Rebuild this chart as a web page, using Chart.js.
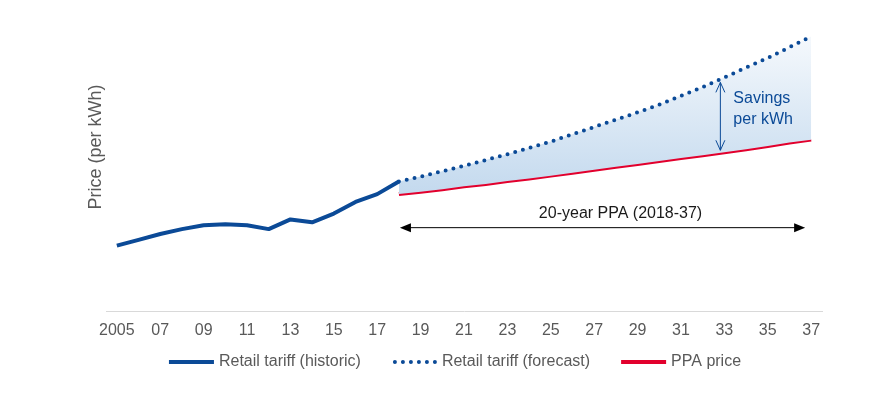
<!DOCTYPE html>
<html>
<head>
<meta charset="utf-8">
<script src="https://cdn.jsdelivr.net/npm/chart.js@4.4.1/dist/chart.umd.min.js"></script>
<style>
  html, body { margin: 0; padding: 0; background: #fff; }
  #wrap { width: 876px; height: 393px; position: relative; }
</style>
</head>
<body>
<div id="wrap"><canvas id="tariff-chart"></canvas></div>
<script>
const years = [2005, 2006, 2007, 2008, 2009, 2010, 2011, 2012, 2013, 2014, 2015,
  2016, 2017, 2018, 2019, 2020, 2021, 2022, 2023, 2024, 2025, 2026, 2027, 2028,
  2029, 2030, 2031, 2032, 2033, 2034, 2035, 2036, 2037];

const tickLabels = ['2005', '', '07', '', '09', '', '11', '', '13', '', '15', '',
  '17', '', '19', '', '21', '', '23', '', '25', '', '27', '', '29', '', '31', '',
  '33', '', '35', '', '37'];

// 2005-2018
const retailHistoric = [6.8, 7.4, 8.0, 8.5, 8.9, 9.0, 8.9, 8.5, 9.5, 9.2, 10.1,
  11.3, 12.1, 13.4];

// 2018-2037
const retailForecast = [13.4, 13.9, 14.45, 15.0, 15.6, 16.2, 16.85, 17.5, 18.25,
  19.0, 19.75, 20.5, 21.3, 22.2, 23.1, 24.1, 25.1, 26.1, 27.2, 28.3];

// 2018-2037
const ppaPrice = [12.1, 12.35, 12.6, 12.9, 13.15, 13.45, 13.7, 14.0, 14.3, 14.6,
  14.9, 15.2, 15.5, 15.8, 16.1, 16.4, 16.7, 17.05, 17.4, 17.7];

const seriesNames = ['Retail tariff (historic)', 'Retail tariff (forecast)', 'PPA price'];

const PPA_START = 2018;
const PPA_END = 2037;
const SAVINGS_YEAR = 2033;

const BLUE = '#0b4a97';
const RED = '#e2002d';
const GREY = '#595959';
const FONT = '"Liberation Sans", Arial, sans-serif';

Chart.defaults.font.family = FONT;
Chart.defaults.font.size = 16;
Chart.defaults.color = GREY;

function padSeries(values, startYear) {
  const out = years.map(() => null);
  const first = years.indexOf(startYear);
  values.forEach((v, i) => { out[first + i] = v; });
  return out;
}

function savingsFill(context) {
  const chart = context.chart;
  const area = chart.chartArea;
  if (!area) {
    return 'rgba(197, 219, 238, 0.8)';
  }
  const y = chart.scales.y;
  const g = chart.ctx.createLinearGradient(0, y.getPixelForValue(28), 0, y.getPixelForValue(12));
  g.addColorStop(0, '#f4f8fc');
  g.addColorStop(1, '#c3d9ee');
  return g;
}

function arrowHead(ctx, x, y, dir, len, half) {
  // filled triangle, tip at (x, y), pointing left (dir -1) or right (dir 1)
  ctx.beginPath();
  ctx.moveTo(x, y);
  ctx.lineTo(x - dir * len, y - half);
  ctx.lineTo(x - dir * len, y + half);
  ctx.closePath();
  ctx.fill();
}

const annotations = {
  id: 'annotations',
  afterDatasetsDraw(chart) {
    const { ctx, scales: { x, y } } = chart;
    ctx.save();

    // 20-year PPA arrow
    const x0 = x.getPixelForValue(years.indexOf(PPA_START)) + 1;
    const x1 = x.getPixelForValue(years.indexOf(PPA_END)) - 6;
    const ay = y.getPixelForValue(8.65);
    ctx.strokeStyle = '#000';
    ctx.fillStyle = '#000';
    ctx.lineWidth = 1;
    ctx.beginPath();
    ctx.moveTo(x0 + 5, ay);
    ctx.lineTo(x1 - 5, ay);
    ctx.stroke();
    arrowHead(ctx, x0, ay, -1, 11, 4.5);
    arrowHead(ctx, x1, ay, 1, 11, 4.5);
    ctx.font = '16px ' + FONT;
    ctx.fillStyle = '#1a1a1a';
    ctx.textAlign = 'center';
    ctx.textBaseline = 'alphabetic';
    ctx.fillText('20-year PPA (2018-37)', (x0 + x1) / 2 + 18, ay - 10);

    // savings arrow
    const i = years.indexOf(SAVINGS_YEAR);
    const sx = x.getPixelForValue(i) - 4;
    const top = y.getPixelForValue(retailForecast[SAVINGS_YEAR - PPA_START]) + 5;
    const bottom = y.getPixelForValue(ppaPrice[SAVINGS_YEAR - PPA_START]) - 2;
    ctx.strokeStyle = BLUE;
    ctx.lineWidth = 1;
    ctx.beginPath();
    ctx.moveTo(sx, top);
    ctx.lineTo(sx, bottom);
    ctx.moveTo(sx - 4.5, top + 10);
    ctx.lineTo(sx, top);
    ctx.lineTo(sx + 4.5, top + 10);
    ctx.moveTo(sx - 4.5, bottom - 10);
    ctx.lineTo(sx, bottom);
    ctx.lineTo(sx + 4.5, bottom - 10);
    ctx.stroke();
    ctx.fillStyle = BLUE;
    ctx.textAlign = 'left';
    ctx.fillText('Savings', sx + 13, top + 21);
    ctx.fillText('per kWh', sx + 13, top + 42);

    ctx.restore();
  },
  afterDraw(chart) {
    const { ctx } = chart;
    ctx.save();

    // y axis title
    ctx.translate(96, 147);
    ctx.rotate(-Math.PI / 2);
    ctx.font = '18px ' + FONT;
    ctx.fillStyle = GREY;
    ctx.textAlign = 'center';
    ctx.textBaseline = 'middle';
    ctx.fillText('Price (per kWh)', 0, 0);
    ctx.setTransform(1, 0, 0, 1, 0, 0);

    // legend
    ctx.font = '16px ' + FONT;
    const sample = 45, gap = 5, spacing = 31, ly = 362;
    const widths = chart.data.datasets.map(ds => ctx.measureText(ds.label).width);
    const total = widths.reduce((a, b) => a + b, 0) + 3 * (sample + gap) + 2 * spacing;
    let lx = 455 - total / 2;
    chart.data.datasets.forEach((ds, k) => {
      ctx.strokeStyle = ds.borderColor;
      ctx.lineWidth = 4;
      ctx.lineCap = ds.borderCapStyle || 'butt';
      ctx.setLineDash(ds.borderDash || []);
      ctx.beginPath();
      ctx.moveTo(lx + (ds.borderDash ? 3 : 0), ly);
      ctx.lineTo(lx + sample, ly);
      ctx.stroke();
      ctx.setLineDash([]);
      ctx.fillStyle = GREY;
      ctx.textAlign = 'left';
      ctx.textBaseline = 'middle';
      ctx.fillText(ds.label, lx + sample + gap, ly);
      lx += sample + gap + widths[k] + spacing;
    });

    ctx.restore();
  }
};

const ctx = document.getElementById('tariff-chart');

new Chart(ctx, {
  type: 'line',
  data: {
    labels: years,
    datasets: [{
      label: seriesNames[0],
      data: padSeries(retailHistoric, 2005),
      borderColor: BLUE,
      borderWidth: 4,
      borderCapStyle: 'butt',
      borderJoinStyle: 'round',
      pointRadius: 0,
      fill: false,
    }, {
      label: seriesNames[1],
      data: padSeries(retailForecast, PPA_START),
      borderColor: BLUE,
      borderWidth: 4,
      borderDash: [0, 8],
      borderCapStyle: 'round',
      pointRadius: 0,
      backgroundColor: savingsFill,
      fill: '+1',
    }, {
      label: seriesNames[2],
      data: padSeries(ppaPrice, PPA_START),
      borderColor: RED,
      borderWidth: 4,
      borderCapStyle: 'butt',
      borderJoinStyle: 'round',
      pointRadius: 0,
      fill: false,
    }]
  },
  options: {
    responsive: true,
    maintainAspectRatio: false,
    animation: false,
    devicePixelRatio: 1,
    layout: {
      padding: { left: 106, right: 54, top: 20, bottom: 44 }
    },
    plugins: {
      legend: { display: false },
      tooltip: { enabled: false }
    },
    scales: {
      x: {
        offset: true,
        grid: { display: false, drawTicks: false },
        border: { display: true, color: '#d9d9d9', width: 1 },
        ticks: {
          autoSkip: false,
          maxRotation: 0,
          padding: 9,
          color: GREY,
          font: { size: 16 },
          callback: (value, index) => tickLabels[index]
        }
      },
      y: {
        display: false,
        min: 0,
        max: 30
      }
    }
  },
  plugins: [annotations]
});
</script>
</body>
</html>
